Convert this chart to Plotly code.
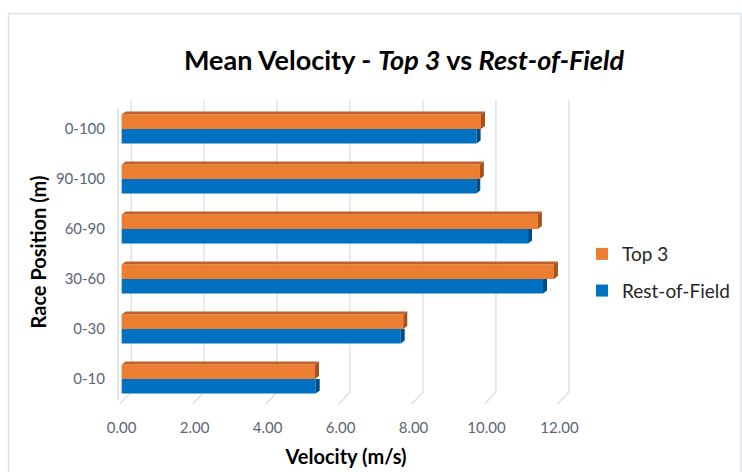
import plotly.graph_objects as go

# Race segments (bottom to top) and mean velocities in m/s
segments = ["0-10", "0-30", "30-60", "60-90", "90-100", "0-100"]
rest_of_field = [5.32, 7.65, 11.55, 11.14, 9.72, 9.73]
top_3 = [5.30, 7.72, 11.85, 11.41, 9.82, 9.85]
x_ticks = [0, 2, 4, 6, 8, 10, 12]

W, H = 742, 472
L, R, T, B = 118, 168, 100, 68
XR = [-0.1, 12.4]
YR = [-0.5, 5.58]

ORANGE, ORANGE_TOP, ORANGE_SIDE = "#ED7D31", "#BF6128", "#A5521D"
BLUE, BLUE_SIDE = "#0070C0", "#004E87"
GRID = "#D9DEE6"
TICK_COL = "#5B6577"

bargap = 0.42
half = (1 - bargap) / 2          # thickness of one bar in category units
dx, dy = 0.11, 0.06              # extrusion depth for the 3D faces

pos = list(range(len(segments)))

fig = go.Figure()
fig.add_trace(go.Bar(
    y=pos, x=rest_of_field, orientation="h", name="Rest-of-Field",
    marker=dict(color=BLUE, line=dict(width=0)),
    legendgroup="rest", legendrank=2,
))
fig.add_trace(go.Bar(
    y=pos, x=top_3, orientation="h", name="Top 3",
    marker=dict(color=ORANGE, line=dict(width=0)),
    legendgroup="top", legendrank=1,
))

shapes = []

# back-wall gridlines with a short floor segment toward the front
plot_h = H - T - B
floor_back = (404 - 392) / plot_h
for t in x_ticks:
    shapes.append(dict(type="path", xref="x", yref="paper", layer="below",
                       path=f"M{t + 0.26},1 L{t + 0.26},{floor_back} L{t - 0.05},0",
                       line=dict(color=GRID, width=1.3)))

# left wall edge
shapes.append(dict(type="line", xref="paper", yref="paper", layer="below",
                   x0=0, x1=0, y0=(404 - 400) / plot_h, y1=(404 - 108) / plot_h,
                   line=dict(color=GRID, width=1.5)))

# extruded faces of each bar
for i, (vb, vo) in enumerate(zip(rest_of_field, top_3)):
    top = i + half
    shapes.append(dict(type="path", xref="x", yref="y", line=dict(width=0),
                       fillcolor=ORANGE_TOP,
                       path=f"M0,{top} L{vo},{top} L{vo + dx},{top + dy} L{dx},{top + dy} Z"))
    shapes.append(dict(type="path", xref="x", yref="y", line=dict(width=0),
                       fillcolor=ORANGE_SIDE,
                       path=f"M{vo},{i} L{vo},{top} L{vo + dx},{top + dy} L{vo + dx},{i + dy} Z"))
    shapes.append(dict(type="path", xref="x", yref="y", line=dict(width=0),
                       fillcolor=BLUE_SIDE,
                       path=f"M{vb},{i - half} L{vb},{i} L{vb + dx},{i} L{vb + dx},{i - half + dy} Z"))

# outer chart border
def px_x(p):
    return (p - L) / (W - L - R)

def px_y(p):
    return (H - B - p) / plot_h

shapes.append(dict(type="rect", xref="paper", yref="paper", layer="below",
                   x0=px_x(8.5), x1=px_x(741), y0=px_y(480), y1=px_y(13.5),
                   line=dict(color="#DDE2E8", width=1.5)))

fig.update_layout(
    width=W, height=H,
    margin=dict(l=L, r=R, t=T, b=B, autoexpand=False),
    paper_bgcolor="white", plot_bgcolor="white",
    font=dict(family="Lato, Open Sans, sans-serif", color=TICK_COL),
    barmode="group", bargap=bargap, bargroupgap=0,
    shapes=shapes,
    title=dict(
        text="<b>Mean Velocity - <i>Top 3</i> vs <i>Rest-of-Field</i></b>",
        x=404 / W, xanchor="center", xref="container",
        y=1 - 61 / H, yanchor="middle", yref="container",
        font=dict(size=27, color="#000000", family="Lato, sans-serif"),
    ),
    xaxis=dict(
        range=XR, tickvals=x_ticks, ticktext=[f"{v:.2f}" for v in x_ticks],
        showgrid=False, zeroline=False, showline=False,
        ticklabelstandoff=13,
        tickfont=dict(size=15, color=TICK_COL),
        title=dict(text="<b>Velocity (m/s)</b>", standoff=14,
                   font=dict(size=20, color="#000000")),
    ),
    yaxis=dict(
        range=YR, tickvals=pos, ticktext=segments,
        showgrid=False, zeroline=False, showline=False,
        ticklabelstandoff=12,
        tickfont=dict(size=15, color=TICK_COL),
        title=dict(text="<b>Race Position (m)</b>", standoff=3,
                   font=dict(size=20, color="#000000")),
    ),
    legend=dict(
        x=px_x(582), xanchor="left", y=px_y(235), yanchor="top",
        traceorder="grouped", tracegroupgap=9,
        font=dict(size=19, color="#262626"),
        bgcolor="rgba(0,0,0,0)", itemwidth=30,
    ),
)

fig.write_html("out.html")
